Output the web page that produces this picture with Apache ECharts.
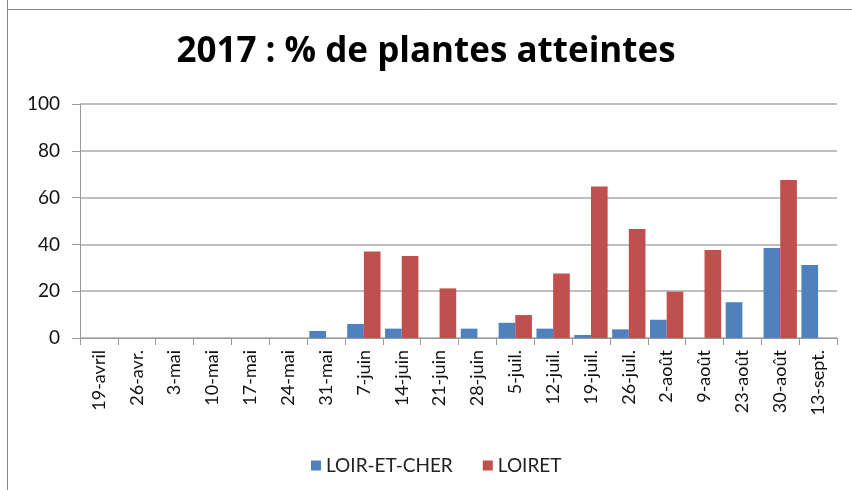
<!DOCTYPE html>
<html>
<head>
<meta charset="utf-8">
<script src="https://cdn.jsdelivr.net/npm/echarts@6/dist/echarts.min.js"></script>
<style>
  html, body { margin: 0; padding: 0; background: #fff; }
  #chart { width: 852px; height: 490px; }
</style>
</head>
<body>
<div id="chart"></div>
<script>
// dates des relevés
var categories = ["19-avril", "26-avr.", "3-mai", "10-mai", "17-mai", "24-mai", "31-mai",
  "7-juin", "14-juin", "21-juin", "28-juin", "5-juil.", "12-juil.", "19-juil.", "26-juil.",
  "2-août", "9-août", "23-août", "30-août", "13-sept."];
var loirEtCher = [0, 0, 0, 0, 0, 0, 3, 6, 4, 0, 4, 6.5, 4, 1.3, 3.7, 7.8, 0, 15.3, 38.5, 31.2];
var loiret = [0, 0, 0, 0, 0, 0, 0, 37, 35, 21.2, 0, 9.8, 27.6, 64.7, 46.6, 19.8, 37.6, null, 67.5, null];
var yTicks = [0, 20, 40, 60, 80, 100];

var chart = echarts.init(document.getElementById("chart"));
var font = "Lato, 'Open Sans', sans-serif";

chart.setOption({
  animation: false,
  color: ["#4F81BD", "#C0504D"],
  title: {
    text: "2017 : % de plantes atteintes",
    left: "center",
    top: 30,
    textStyle: { fontFamily: "'Open Sans'", fontWeight: "bold", fontSize: 35, color: "#000" }
  },
  graphic: [
    { type: "line", shape: { x1: 7.5, y1: 0, x2: 7.5, y2: 490 }, style: { stroke: "#888", lineWidth: 1 } },
    { type: "line", shape: { x1: 7, y1: 9.5, x2: 852, y2: 9.5 }, style: { stroke: "#888", lineWidth: 1 } }
  ],
  legend: {
    top: 451,
    left: 306,
    itemWidth: 10,
    itemHeight: 10,
    itemGap: 30,
    icon: "rect",
    textStyle: { fontFamily: font, fontSize: 19, color: "#222" },
    data: ["LOIR-ET-CHER", "LOIRET"]
  },
  grid: { left: 80, right: 15, top: 104, bottom: 152 },
  xAxis: {
    type: "category",
    data: categories,
    axisLine: { lineStyle: { color: "#999" } },
    axisTick: { show: true, length: 7, lineStyle: { color: "#999" } },
    axisLabel: { rotate: 90, interval: 0, margin: 12, fontFamily: font, fontSize: 18, color: "#111" }
  },
  yAxis: {
    type: "value",
    min: yTicks[0],
    max: yTicks[yTicks.length - 1],
    interval: 20,
    axisLine: { show: true, lineStyle: { color: "#999" } },
    axisTick: { show: true, length: 8, lineStyle: { color: "#999" } },
    axisLabel: { margin: 20, fontFamily: font, fontSize: 19, color: "#111" },
    splitLine: { lineStyle: { color: "#aaa", width: 1.5 } }
  },
  series: [
    { name: "LOIR-ET-CHER", type: "bar", data: loirEtCher, barGap: "0%", barCategoryGap: "12%" },
    { name: "LOIRET", type: "bar", data: loiret, barGap: "0%", barCategoryGap: "12%" }
  ]
});
</script>
</body>
</html>
